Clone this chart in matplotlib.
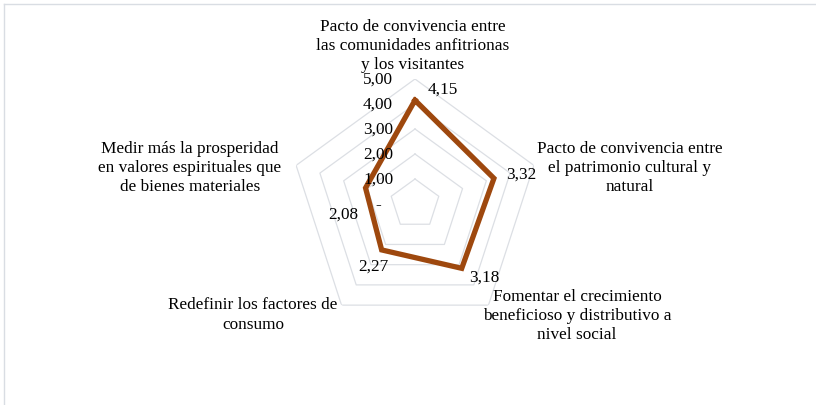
import numpy as np
import matplotlib.pyplot as plt
from matplotlib.lines import Line2D

categories = [
    "Pacto de convivencia entre\nlas comunidades anfitrionas\ny los visitantes",
    "Pacto de convivencia entre\nel patrimonio cultural y\nnatural",
    "Fomentar el crecimiento\nbeneficioso y distributivo a\nnivel social",
    "Redefinir los factores de\nconsumo",
    "Medir más la prosperidad\nen valores espirituales que\nde bienes materiales",
]
values = [4.15, 3.32, 3.18, 2.27, 2.08]
rings = [1, 2, 3, 4, 5]
ring_labels = ["-", "1,00", "2,00", "3,00", "4,00", "5,00"]

plt.rcParams['font.family'] = ['Liberation Serif', 'DejaVu Serif']

W, H = 816, 406
fig = plt.figure(figsize=(W / 100, H / 100), dpi=100)

# light frame of the chart area
fig.add_artist(Line2D([4 / W, 1], [1 - 5 / H, 1 - 5 / H], color='#d9dde3', lw=1))
fig.add_artist(Line2D([4 / W, 4 / W], [0, 1 - 5 / H], color='#d9dde3', lw=1))

cx, cy, R = 415, 205, 125
ax = fig.add_axes([(cx - R) / W, 1 - (cy + R) / H, 2 * R / W, 2 * R / H], polar=True)
ax.set_theta_offset(np.pi / 2)
ax.set_theta_direction(-1)
ax.set_ylim(0, 5)
ax.axis('off')

n = len(categories)
theta = np.arange(n) * 2 * np.pi / n
tc = np.append(theta, theta[0])

for r in rings:
    ax.plot(tc, [r] * (n + 1), color='#dcdfe4', lw=0.9, zorder=1)

ax.plot(tc, values + values[:1], color='#9e480e', lw=3.8, zorder=3,
        solid_joinstyle='miter')

fs = 12.4

# radial axis labels
for i, lab in enumerate(ring_labels):
    ax.annotate(lab, (0, i), xytext=(-37, 0), textcoords='offset pixels',
                ha='center', va='center', fontsize=fs, zorder=4)

# data labels
offsets = [(28, 12), (27, 5), (23, -8), (-8, -16), (-22, -26)]
for t, v, off in zip(theta, values, offsets):
    ax.annotate(f"{v:.2f}".replace('.', ','), (t, v), xytext=off,
                textcoords='offset pixels', ha='center', va='center',
                fontsize=fs, zorder=4)

# category labels
cat_pos = [(413, 46), (630, 168), (577, 316), (253, 315), (190, 168)]
for lab, (x, y) in zip(categories, cat_pos):
    fig.text(x / W, 1 - y / H, lab, ha='center', va='center', fontsize=fs,
             linespacing=1.27)

fig.savefig('out.png', dpi=100)
